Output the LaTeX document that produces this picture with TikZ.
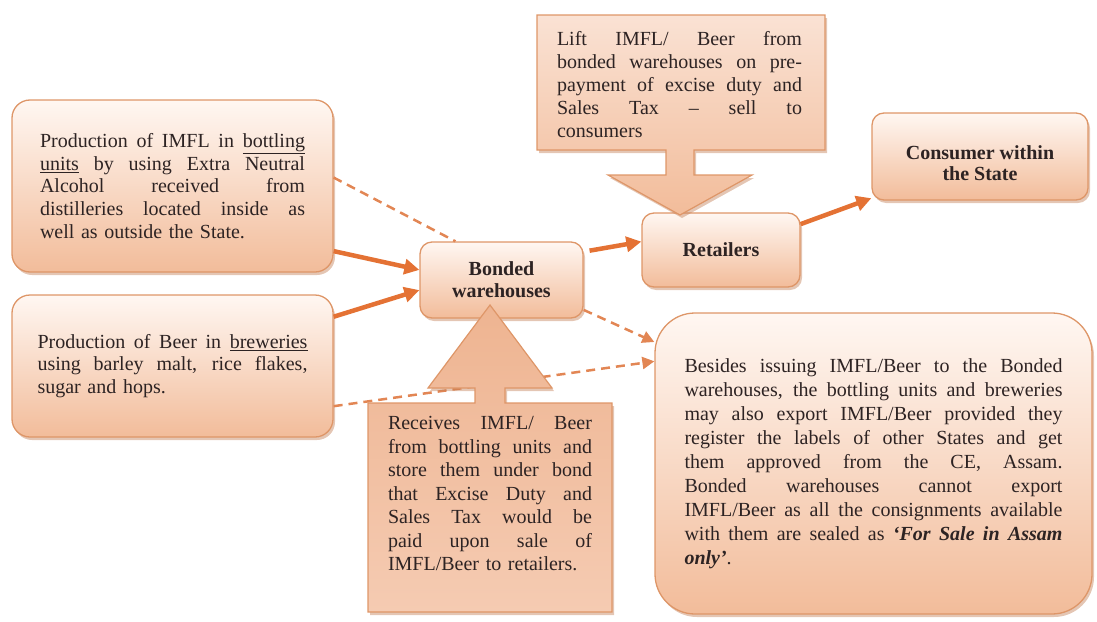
\documentclass[tikz,border=0pt]{standalone}
\usepackage{fontspec}
\setmainfont{Liberation Serif}
\usetikzlibrary{shadows,arrows.meta}
\definecolor{bord}{RGB}{222,150,104}
\definecolor{pk}{RGB}{242,188,154}
\definecolor{pkl}{RGB}{255,247,242}
\definecolor{pkm}{RGB}{250,226,212}
\definecolor{pkd}{RGB}{238,180,145}
\definecolor{pkb}{RGB}{245,203,178}
\definecolor{arr}{RGB}{228,114,52}
\definecolor{dsh}{RGB}{226,134,84}
\definecolor{txt}{RGB}{45,35,35}
\definecolor{shc}{RGB}{196,128,88}
\newcommand{\jl}[1]{\noindent\hbox to \hsize{\spaceskip=0.25em plus 1fil\relax\xspaceskip=0.3em plus 1fil\relax #1}\\}
\begin{document}
\begin{tikzpicture}[x=1pt,y=-1pt]
\tikzset{
 shad/.style={drop shadow={shadow xshift=2pt,shadow yshift=-3pt,opacity=.45,fill=shc}},
 boxbase/.style={draw=bord, line width=1.3pt, top color=pkl, bottom color=pk, shad, inner sep=0pt, text=txt},
 bodytext/.style={font=\fontsize{20}{22.7}\selectfont, align=left, text=txt, inner sep=0pt},
 headtext/.style={font=\fontsize{20}{22}\selectfont\bfseries, align=center},
 conn/.style={draw=arr, line width=4.5pt, -{Triangle[length=15pt,width=15pt]}},
 dconn/.style={draw=dsh, line width=2.5pt, dash pattern=on 9pt off 6pt},
 darr/.style={dconn, -{Triangle[length=12pt,width=12pt]}},
 callout/.style={draw=bord, line width=1.2pt, shad}
}
\useasboundingbox (0,0) rectangle (1097,621);

% main boxes
\node[boxbase, rounded corners=18pt, minimum width=321pt, minimum height=172pt,
      text width=265pt, bodytext] (A) at (172.5,186) {%
\jl{Production of IMFL in \underline{bottling}}
\jl{\underline{units} by using Extra Neutral}
\jl{Alcohol received from}
\jl{distilleries located inside as}
well as outside the State.};

\node[boxbase, rounded corners=18pt, minimum width=321pt, minimum height=142pt,
      text width=270pt, bodytext] (B) at (172.5,366) {%
\jl{Production of Beer in \underline{breweries}}
\jl{using barley malt, rice flakes,}
sugar and hops.};

\node[boxbase, rounded corners=12pt, minimum width=163pt, minimum height=76pt, headtext] (W) at (501.5,280) {Bonded\\warehouses};
\node[boxbase, rounded corners=12pt, minimum width=158pt, minimum height=74pt, headtext] (R) at (721,250) {Retailers};
\node[boxbase, rounded corners=12pt, minimum width=216pt, minimum height=87pt, headtext, font=\fontsize{20}{21}\selectfont\bfseries] (C) at (980,156.5) {\rule{0pt}{28pt}Consumer within\\the State};

\node[boxbase, rounded corners=40pt, minimum width=437pt, minimum height=301pt,
      text width=378pt, bodytext, font=\fontsize{20}{24}\selectfont] (Big) at (873.5,463.5) {%
\jl{Besides issuing IMFL/Beer to the Bonded}
\jl{warehouses, the bottling units and breweries}
\jl{may also export IMFL/Beer provided they}
\jl{register the labels of other States and get}
\jl{them approved from the CE, Assam.}
\jl{Bonded warehouses cannot export}
\jl{IMFL/Beer as all the consignments available}
\jl{with them are sealed as \textbf{\textit{`For Sale in Assam}}}
\textbf{\textit{only'}}.};

% dashed connectors
\draw[dconn] (A.3) -- (W.140);
\draw[darr] (W.-20) -- (Big.151);
\draw[darr] (B.-14) -- (Big.155);

% callout: lift
\path[callout, top color=pkm, bottom color=pk]
  (537,15) -- (825,15) -- (825,150) -- (694,150) -- (694,175) -- (752,175)
  -- (680,215) -- (608,175) -- (666,175) -- (666,150) -- (537,150) -- cycle;
\node[bodytext, text width=245pt, font=\fontsize{20}{23}\selectfont] (L) at (679.5,85) {%
\jl{Lift IMFL/ Beer from}
\jl{bonded warehouses on pre-}
\jl{payment of excise duty and}
\jl{Sales Tax -- sell to}
consumers};

% callout: receives
\path[callout, top color=pkd, bottom color=pkb]
  (368,403) -- (475,403) -- (475,388) -- (428,388) -- (490,305) -- (552,388)
  -- (505,388) -- (505,403) -- (612,403) -- (612,612) -- (368,612) -- cycle;
\node[bodytext, text width=204pt, font=\fontsize{20}{23.5}\selectfont] (V) at (490,494) {%
\jl{Receives IMFL/ Beer}
\jl{from bottling units and}
\jl{store them under bond}
\jl{that Excise Duty and}
\jl{Sales Tax would be}
\jl{paid upon sale of}
IMFL/Beer to retailers.};

% solid connectors
\draw[conn] (A.-22) -- (W.173);
\draw[conn] (B.17) -- (W.187);
\draw[conn, shorten <=6pt] (W.19) -- (R.174);
\draw[conn] (R.18) -- (C.201);
\end{tikzpicture}
\end{document}
